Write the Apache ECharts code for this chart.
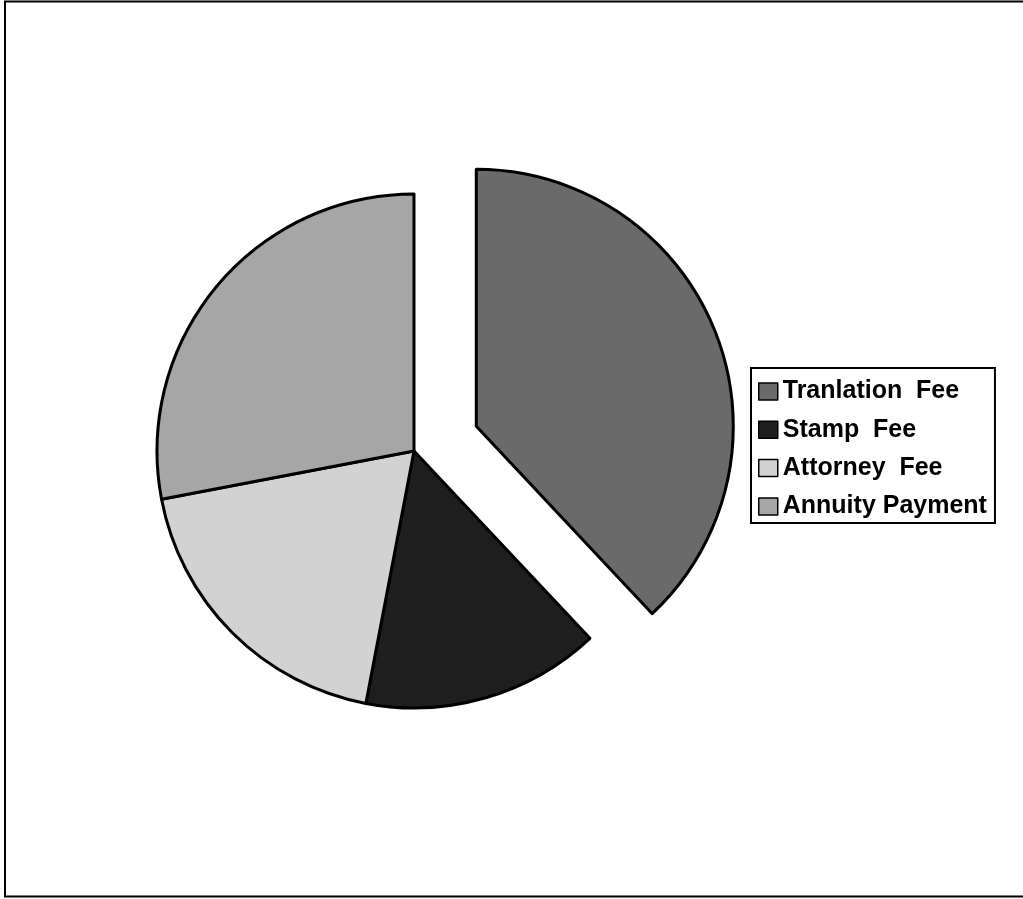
<!DOCTYPE html>
<html>
<head>
<meta charset="utf-8">
<script src="https://cdn.jsdelivr.net/npm/echarts@6/dist/echarts.min.js"></script>
<style>
html,body{margin:0;padding:0;background:#fff;}
#chart{width:1023px;height:899px;}
</style>
</head>
<body>
<div id="chart"></div>
<script>
const categories = ['Tranlation  Fee', 'Stamp  Fee', 'Attorney  Fee', 'Annuity Payment'];
const values = [38, 15, 19, 28];
const sliceColors = ['#6a6a6a', '#1e1e1e', '#d2d2d2', '#a6a6a6'];
const explodedIndex = 0;

const chart = echarts.init(document.getElementById('chart'), null, {renderer: 'canvas'});
chart.setOption({
  backgroundColor: '#ffffff',
  animation: false,
  graphic: [{
    type: 'polyline',
    shape: {points: [[1030, 1.5], [5, 1.5], [5, 896.5], [1030, 896.5]]},
    style: {stroke: '#000', lineWidth: 2, fill: null}
  }],
  legend: {
    orient: 'vertical',
    left: 751,
    top: 368,
    backgroundColor: '#fff',
    borderColor: '#000',
    borderWidth: 2,
    borderRadius: 0,
    padding: [11, 8, 4, 7],
    itemWidth: 19,
    itemHeight: 17,
    itemGap: 13.3,
    icon: 'rect',
    selectedMode: false,
    itemStyle: {borderColor: '#000', borderWidth: 1.5},
    textStyle: {
      fontFamily: 'Liberation Sans, Arial, sans-serif',
      fontSize: 25,
      fontWeight: 'bold',
      color: '#000',
      lineHeight: 25
    },
    data: categories
  },
  series: [{
    type: 'pie',
    center: [414, 451],
    radius: 257,
    startAngle: 90,
    clockwise: true,
    selectedMode: 'single',
    selectedOffset: 67,
    label: {show: false},
    labelLine: {show: false},
    emphasis: {disabled: true},
    itemStyle: {borderColor: '#000', borderWidth: 3},
    data: categories.map((name, i) => ({
      name: name,
      value: values[i],
      selected: i === explodedIndex,
      itemStyle: {color: sliceColors[i]}
    }))
  }]
});
</script>
</body>
</html>
